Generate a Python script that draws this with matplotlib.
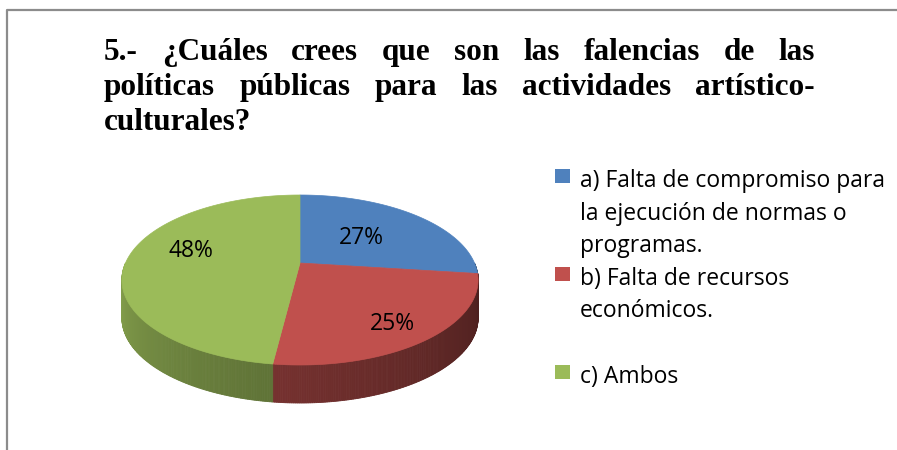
import numpy as np
import matplotlib
matplotlib.use("Agg")
import matplotlib.pyplot as plt
from matplotlib.patches import Polygon, Rectangle
from matplotlib.lines import Line2D

# data
categories = ["a", "b", "c"]
values = [27, 25, 48]
pct_labels = ["27%", "25%", "48%"]
colors = ["#4f81bd", "#c0504d", "#9bbb59"]
legend_lines = [
    ["a) Falta de compromiso para", "la ejecución de normas o", "programas."],
    ["b) Falta de recursos", "económicos."],
    ["c) Ambos"],
]
title_lines = [
    "5.- ¿Cuáles crees que son las falencias de las",
    "políticas públicas para las actividades artístico-",
    "culturales?",
]

fig = plt.figure(figsize=(8.97, 4.5), dpi=100)
ax = fig.add_axes([0, 0, 1, 1])
ax.set_xlim(0, 897)
ax.set_ylim(450, 0)
ax.axis("off")

# chart frame (left and top edges only visible)
ax.add_line(Line2D([7, 7, 897], [450, 10, 10], color="#8c8c8c", lw=1.6))

# --- 3D-looking pie ---
cx, cy, rx, ry, persp, depth = 300, 263, 174.5, 81.6, 0.2, 38


def proj(theta, r=1.0):
    t = np.radians(theta)
    v = -r * np.sin(t)
    s = 1.0 / (1.0 - persp * v)
    return cx + rx * r * np.cos(t) * s, cy + ry * v * s


def shade(hexcol, f):
    rgb = np.array(matplotlib.colors.to_rgb(hexcol))
    return tuple(rgb * f)


fr = np.array(values) / sum(values)
ends = 90 - 360 * np.cumsum(fr)
starts = np.concatenate([[90], ends[:-1]])

# side walls
for st, en, col in zip(starts, ends, colors):
    angs = np.arange(en, st, 0.5)
    angs = np.append(angs, st)
    for a0, a1 in zip(angs[:-1], angs[1:]):
        mid = ((a0 + a1) / 2) % 360
        if not (180 < mid < 360):
            continue
        x0, y0 = proj(a0)
        x1, y1 = proj(a1)
        k = ((mid - 180) / 180) ** 0.7
        c = shade(col, 0.94 - 0.56 * k)
        ax.add_patch(Polygon([(x0, y0), (x1, y1), (x1, y1 + depth), (x0, y0 + depth)],
                             closed=True, fc=c, ec=c, lw=0.6, zorder=1))

# top faces
for st, en, col in zip(starts, ends, colors):
    angs = np.linspace(st, en, 200)
    xs, ys = proj(angs)
    pts = [(cx, cy)] + list(zip(xs, ys))
    ax.add_patch(Polygon(pts, closed=True, fc=col, ec=col, lw=0.5, zorder=2))

# percentage labels
lab_font = dict(family="Open Sans", fontsize=16.5, color="black")
lab_r = [0.5, 0.76, 0.63]
lab_dy = [0, 5, -9]
for st, en, lab, r, dy in zip(starts, ends, pct_labels, lab_r, lab_dy):
    mid = (st + en) / 2
    lx, ly = proj(mid, r)
    ax.text(lx, ly + dy, lab, ha="center", va="center", zorder=3, **lab_font)

# legend
line_h = 32.6
for i, (lines, col) in enumerate(zip(legend_lines, colors)):
    base = 187 + 3 * i * line_h
    ax.add_patch(Rectangle((555, base - 18), 15, 14, fc=col, ec="none"))
    for j, txt in enumerate(lines):
        ax.text(580, base + j * line_h, txt, ha="left", va="baseline", **lab_font)

# justified title
title_font = dict(family="Liberation Serif", fontsize=22.5, fontweight="bold", color="black")
x_left, x_right = 104, 815
baselines = [60, 95, 130]
renderer = fig.canvas.get_renderer()
for k, (line, yb) in enumerate(zip(title_lines, baselines)):
    words = line.split(" ")
    if k == len(title_lines) - 1:
        ax.text(x_left, yb, line, ha="left", va="baseline", **title_font)
        continue
    arts = [ax.text(0, yb, w, ha="left", va="baseline", **title_font) for w in words]
    widths = [t.get_window_extent(renderer).width for t in arts]
    gap = ((x_right - x_left) - sum(widths)) / (len(words) - 1)
    x = x_left
    for t, w in zip(arts, widths):
        t.set_x(x)
        x += w + gap

fig.savefig("out.png", dpi=100)
